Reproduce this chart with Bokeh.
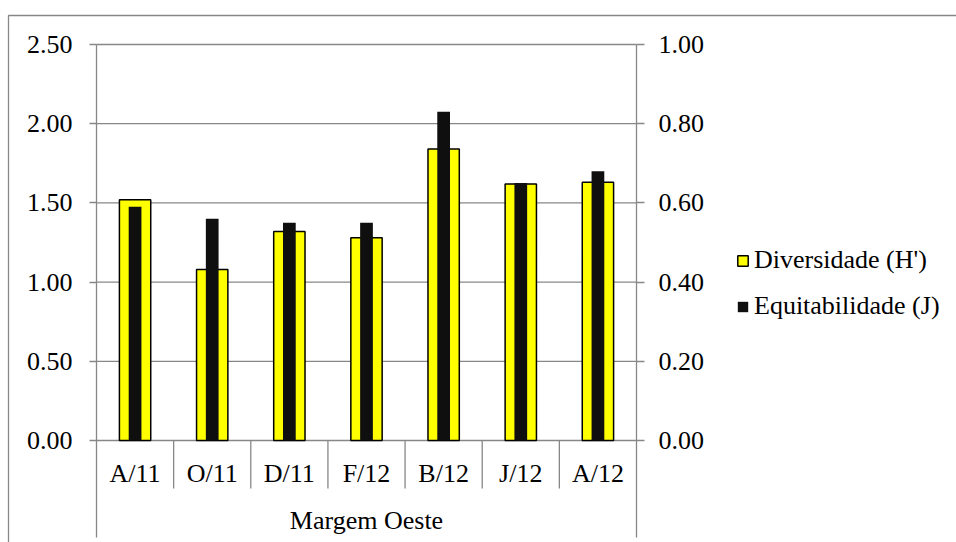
from bokeh.plotting import figure
from bokeh.models import (Range1d, LinearAxis, FixedTicker, NumeralTickFormatter,
                          Legend, LegendItem)
from bokeh.core.properties import value
from bokeh.embed import file_html
from bokeh.resources import INLINE

# Sampling campaigns (west bank)
categories = ["A/11", "O/11", "D/11", "F/12", "B/12", "J/12", "A/12"]
group_label = "Margem Oeste"
diversity_h = [1.52, 1.08, 1.32, 1.28, 1.84, 1.62, 1.63]
evenness_j = [0.59, 0.56, 0.55, 0.55, 0.83, 0.65, 0.68]
left_ticks = [0.0, 0.5, 1.0, 1.5, 2.0, 2.5]
right_ticks = [0.0, 0.2, 0.4, 0.6, 0.8, 1.0]
series_names = ["Diversidade (H')", "Equitabilidade (J)"]

FONT = "Liberation Serif"
FS = "26px"
GRAY = "#878787"

# page layout in pixels; the frame covers the whole canvas and the
# chart elements are positioned through the data scales
W, H = 956, 542
BORDER_X, BORDER_Y = 8, 15          # outer chart border (top-left corner)
P_LEFT, P_RIGHT, P_TOP = 96, 636, 44  # plot area
ZERO_Y = 440                        # pixel row of the value origin
AXIS_BOTTOM = 537                   # lower end of the vertical axis lines
SEP_BOTTOM = 488                    # lower end of the category separators
LABEL_MID = 473                     # category labels
GROUP_MID = 520                     # group label

n = len(categories)
left_max = left_ticks[-1]
right_max = right_ticks[-1]

px_x = (P_RIGHT - P_LEFT) / n
px_y = (ZERO_Y - P_TOP) / left_max
px_r = (ZERO_Y - P_TOP) / right_max


def dx(px):
    return (px - P_LEFT) / px_x


def dy(px):
    return (ZERO_Y - px) / px_y


def dr(px):
    return (ZERO_Y - px) / px_r


xs = [i + 0.5 for i in range(n)]

p = figure(width=W, height=H, output_backend="svg", toolbar_location=None,
           x_range=Range1d(dx(0), dx(W)), y_range=Range1d(dy(H), dy(0)),
           x_axis_location=None, y_axis_location=None,
           min_border=0)
p.extra_y_ranges = {"right": Range1d(dr(H), dr(0))}
p.outline_line_color = None
p.background_fill_color = "white"
p.border_fill_color = "white"
p.xgrid.visible = False
p.ygrid.visible = False


def style_axis(ax, standoff, tick_out):
    ax.axis_line_color = GRAY
    ax.axis_line_width = 1.3
    ax.major_tick_line_color = GRAY
    ax.major_tick_line_width = 1.3
    ax.major_tick_out = tick_out
    ax.major_tick_in = 0
    ax.minor_tick_line_color = None
    ax.major_label_text_font = FONT
    ax.major_label_text_font_size = FS
    ax.major_label_text_color = "black"
    ax.major_label_standoff = standoff
    ax.formatter = NumeralTickFormatter(format="0.00")


left_axis = LinearAxis(ticker=FixedTicker(ticks=left_ticks), fixed_location=0,
                       bounds=(dy(AXIS_BOTTOM), left_max))
style_axis(left_axis, 17, 7)
p.add_layout(left_axis, "left")

right_axis = LinearAxis(y_range_name="right", ticker=FixedTicker(ticks=right_ticks),
                        fixed_location=n, bounds=(dr(AXIS_BOTTOM), right_max))
style_axis(right_axis, 14, 8)
p.add_layout(right_axis, "right")

# outer chart border (top and left edges; the others run off the page)
p.line(x=[dx(W + 10), dx(BORDER_X), dx(BORDER_X)],
       y=[dy(BORDER_Y), dy(BORDER_Y), dy(H + 10)],
       line_color=GRAY, line_width=1.3)

# horizontal gridlines on the primary scale
p.segment(x0=[0] * len(left_ticks), x1=[n] * len(left_ticks), y0=left_ticks,
          y1=left_ticks, line_color=GRAY, line_width=1.3)

# category separators below the origin
bounds = list(range(1, n))
p.segment(x0=bounds, x1=bounds, y0=[0] * len(bounds),
          y1=[dy(SEP_BOTTOM)] * len(bounds), line_color=GRAY, line_width=1.3)

# bars
r_h = p.vbar(x=xs, top=diversity_h, bottom=0, width=0.406,
             fill_color="#FFFF00", line_color="black", line_width=1.5)
r_j = p.vbar(x=xs, top=evenness_j, bottom=0, width=0.165, y_range_name="right",
             fill_color="#0F0F0F", line_color=None)

# category labels
p.text(x=xs, y=[dy(LABEL_MID)] * n, text=categories, text_align="center",
       text_baseline="middle", text_font=value(FONT), text_font_size=FS,
       text_color="black")
p.text(x=[n / 2], y=[dy(GROUP_MID)], text=[group_label], text_align="center",
       text_baseline="middle", text_font=value(FONT), text_font_size=FS,
       text_color="black")

legend = Legend(items=[LegendItem(label=series_names[0], renderers=[r_h]),
                       LegendItem(label=series_names[1], renderers=[r_j])],
                location=(736, 221), orientation="vertical",
                glyph_width=13, glyph_height=13, label_standoff=5,
                label_text_font=FONT, label_text_font_size=FS,
                label_text_color="black", label_height=26, spacing=16,
                padding=0, margin=0, border_line_color=None,
                background_fill_alpha=0)
p.add_layout(legend, "center")

open("out.html", "w").write(file_html(p, INLINE))
